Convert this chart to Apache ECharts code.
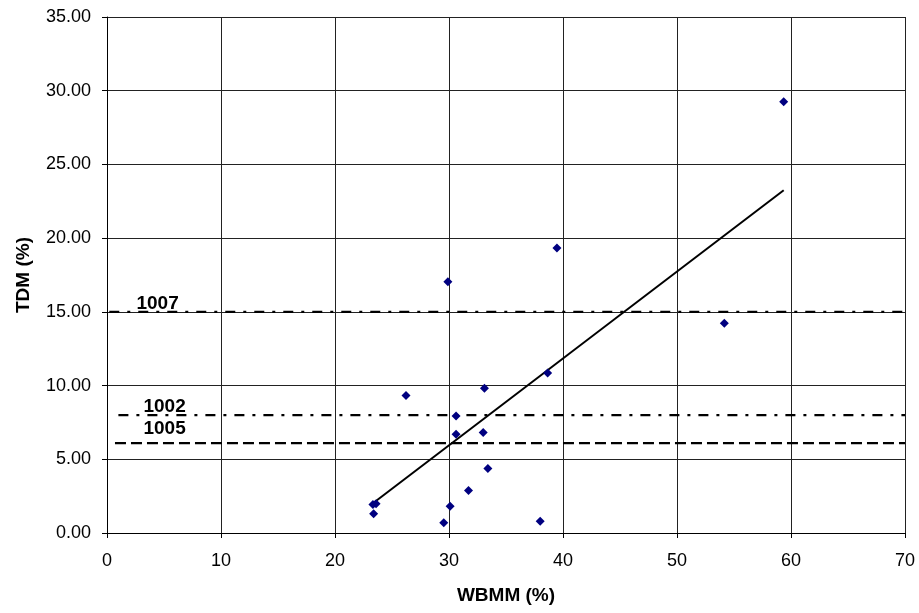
<!DOCTYPE html>
<html>
<head>
<meta charset="utf-8">
<script src="https://cdn.jsdelivr.net/npm/echarts@6/dist/echarts.min.js"></script>
<style>html,body{margin:0;padding:0;background:#fff;}#c{width:919px;height:613px;}</style>
</head>
<body>
<div id="c"></div>
<script>
// Data
var points = [
  [59.36, 29.25], [39.47, 19.33], [54.15, 14.22], [29.9, 17.04],
  [26.23, 9.32], [33.11, 9.81], [30.62, 7.94], [30.62, 6.70],
  [33.0, 6.81], [33.41, 4.37], [31.71, 2.88], [23.33, 1.93],
  [23.6, 1.98], [23.39, 1.30], [30.1, 1.82], [29.54, 0.69],
  [38.0, 0.80], [38.65, 10.85]
];
var trendLine = [[23.33, 2.02], [59.36, 23.25]];
var refNames = ['1007', '1002', '1005'];
var refValues = [15.0, 8.0, 6.1];
var refXStart = [0.2, 1.0, 0.7];
var refXEnd = 70;
var refLabelX = [4.44, 5.05, 5.05];
var xTicks = [0, 10, 20, 30, 40, 50, 60, 70];
var yTicks = [0, 5, 10, 15, 20, 25, 30, 35];

var dashTypes = [[10, 8, 3, 8], [10, 8, 3, 8], [11, 5]];
var labelOffsets = [[0, -8], [0, -8], [0, -14]];
var FONT = 'Liberation Sans, Arial, sans-serif';

var series = [];
refNames.forEach(function (name, i) {
  series.push({
    type: 'line',
    name: name,
    data: [[refXStart[i], refValues[i]], [refXEnd, refValues[i]]],
    showSymbol: false,
    symbol: 'none',
    lineStyle: { color: '#000', width: 2.2, type: dashTypes[i] },
    z: 3,
    silent: true
  });
  series.push({
    type: 'scatter',
    data: [[refLabelX[i], refValues[i]]],
    symbolSize: 0,
    silent: true,
    z: 6,
    itemStyle: { opacity: 1, color: '#000' },
    label: {
      show: true, formatter: name, position: 'inside', offset: labelOffsets[i],
      fontFamily: FONT, fontWeight: 'bold', fontSize: 19, color: '#000',
      textBorderWidth: 0, textBorderColor: 'transparent'
    }
  });
});
series.push({
  type: 'line',
  data: trendLine,
  symbol: 'none',
  lineStyle: { color: '#000', width: 2 },
  z: 4
});
series.push({
  type: 'scatter',
  data: points,
  symbol: 'diamond',
  symbolSize: 9,
  itemStyle: { color: '#000080', opacity: 1 },
  z: 5
});

var chart = echarts.init(document.getElementById('c'), null, { renderer: 'canvas' });
chart.setOption({
  animation: false,
  backgroundColor: '#fff',
  grid: { left: 107, right: 14, top: 17, bottom: 80, containLabel: false },
  xAxis: {
    type: 'value', min: xTicks[0], max: xTicks[xTicks.length - 1], interval: 10,
    name: 'WBMM (%)', nameLocation: 'middle', nameGap: 53,
    nameTextStyle: { fontFamily: FONT, fontWeight: 'bold', fontSize: 19, color: '#000' },
    axisLine: { show: true, onZero: false, lineStyle: { color: '#000', width: 1 } },
    axisTick: { show: true, inside: false, length: 5, lineStyle: { color: '#000' } },
    axisLabel: { fontFamily: FONT, fontSize: 18, color: '#000', margin: 19 },
    splitLine: { show: true, lineStyle: { color: '#222', width: 1 } }
  },
  yAxis: {
    type: 'value', min: yTicks[0], max: yTicks[yTicks.length - 1], interval: 5,
    name: 'TDM (%)', nameLocation: 'middle', nameGap: 74, nameRotate: 90,
    nameTextStyle: { fontFamily: FONT, fontWeight: 'bold', fontSize: 19, color: '#000' },
    axisLine: { show: true, onZero: false, lineStyle: { color: '#000', width: 1 } },
    axisTick: { show: true, inside: false, length: 5, lineStyle: { color: '#000' } },
    axisLabel: { fontFamily: FONT, fontSize: 18, color: '#000', margin: 16, formatter: function (v) { return v.toFixed(2); } },
    splitLine: { show: true, lineStyle: { color: '#222', width: 1 } }
  },
  series: series
});
</script>
</body>
</html>
